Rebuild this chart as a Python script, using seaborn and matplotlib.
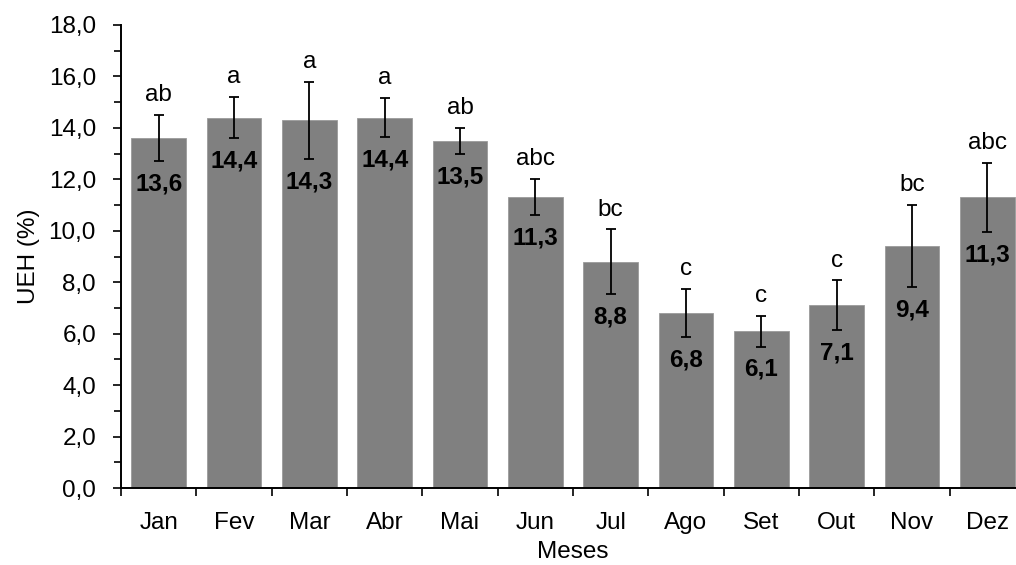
import matplotlib
matplotlib.use("Agg")
import matplotlib.pyplot as plt
import seaborn as sns
import pandas as pd
import numpy as np
from matplotlib.ticker import MultipleLocator, FixedLocator

months = ["Jan", "Fev", "Mar", "Abr", "Mai", "Jun", "Jul", "Ago", "Set", "Out", "Nov", "Dez"]
values = [13.6, 14.4, 14.3, 14.4, 13.5, 11.3, 8.8, 6.8, 6.1, 7.1, 9.4, 11.3]
errors = [0.9, 0.8, 1.5, 0.75, 0.5, 0.7, 1.25, 0.93, 0.6, 0.97, 1.6, 1.35]
letters = ["ab", "a", "a", "a", "ab", "abc", "bc", "c", "c", "c", "bc", "abc"]
value_labels = ["13,6", "14,4", "14,3", "14,4", "13,5", "11,3", "8,8", "6,8", "6,1", "7,1", "9,4", "11,3"]
yticks = [0, 2, 4, 6, 8, 10, 12, 14, 16, 18]
ytick_labels = ["0,0", "2,0", "4,0", "6,0", "8,0", "10,0", "12,0", "14,0", "16,0", "18,0"]

df = pd.DataFrame({"Meses": months, "UEH": values})

sns.set_style("white")
plt.rcParams["font.family"] = ["Liberation Sans", "DejaVu Sans"]
plt.rcParams.update({"text.color": "black", "axes.labelcolor": "black",
                     "xtick.color": "black", "ytick.color": "black"})

FS = 17.5

fig = plt.figure(figsize=(10.16, 5.65), dpi=100)
ax = fig.add_axes([121/1016, 77/565, 904/1016, 463/565])

sns.barplot(data=df, x="Meses", y="UEH", color="#808080", saturation=1,
            width=0.73, errorbar=None, ax=ax, edgecolor="#9a9a9a", linewidth=0.6)

xs = np.arange(len(months))
ax.errorbar(xs, values, yerr=errors, fmt="none", ecolor="black",
            elinewidth=1.3, capsize=3.8, capthick=1.3)

for x, v, e, lt, vl in zip(xs, values, errors, letters, value_labels):
    ax.annotate(lt, (x, v + e), xytext=(0, 10), textcoords="offset points",
                ha="center", va="baseline", fontsize=FS)
    ax.annotate(vl, (x, v - e), xytext=(0, -16.5), textcoords="offset points",
                ha="center", va="center", fontsize=FS, fontweight="bold")

ax.set_xlim(-0.5, len(months) - 0.5)
ax.set_ylim(0, 18)
ax.set_yticks(yticks)
ax.set_yticklabels(ytick_labels, fontsize=FS)
ax.yaxis.set_minor_locator(MultipleLocator(1))
ax.xaxis.set_minor_locator(FixedLocator(np.arange(-0.5, len(months), 1.0)))
ax.tick_params(axis="x", which="major", length=0, pad=17, labelsize=FS)
ax.tick_params(axis="x", which="minor", length=6, width=1.2, direction="out", bottom=True)
ax.tick_params(axis="y", which="major", length=6, width=1.2, direction="out", left=True, pad=12)
ax.tick_params(axis="y", which="minor", length=5, width=1.2, direction="out", left=True)

for s in ["top", "right"]:
    ax.spines[s].set_visible(False)
for s in ["left", "bottom"]:
    ax.spines[s].set_linewidth(1.4)
    ax.spines[s].set_color("black")

ax.set_xlabel("Meses", fontsize=FS, labelpad=5)
ax.set_ylabel("UEH (%)", fontsize=FS, labelpad=6)

fig.savefig("out.png", dpi=100)
